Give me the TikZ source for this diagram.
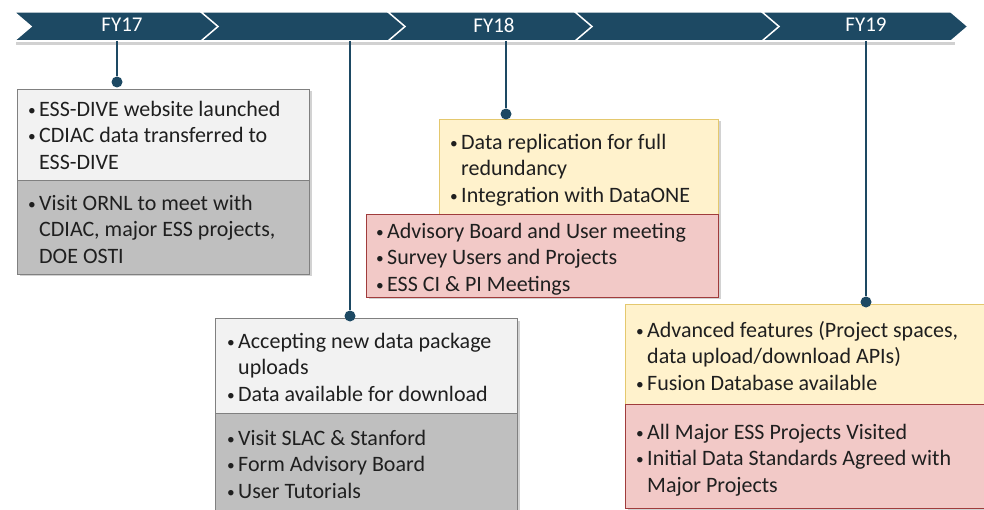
\documentclass[tikz,border=0pt]{standalone}
\usepackage{fontspec}
\setmainfont{Carlito}
\usetikzlibrary{shadows}
\definecolor{teal}{RGB}{29,73,99}
\definecolor{lgray}{RGB}{242,242,242}
\definecolor{dgray}{RGB}{191,191,191}
\definecolor{gborder}{RGB}{128,128,128}
\definecolor{yfill}{RGB}{255,242,204}
\definecolor{yborder}{RGB}{228,200,110}
\definecolor{rfill}{RGB}{242,201,199}
\definecolor{rborder}{RGB}{160,60,60}
\newcommand{\bl}{\makebox[11pt][l]{\raisebox{1pt}{\scalebox{0.7}{•}}}}
\newcommand{\ind}{\hspace*{11pt}}
\tikzset{
  chev/.style={fill=teal, draw=white, line width=1.5pt, line join=miter},
  fylabel/.style={text=white, font=\fontsize{21}{24}\selectfont},
  conn/.style={draw=teal, line width=2.4pt},
  dotc/.style={circle, fill=teal, inner sep=0pt, minimum size=11pt},
  boxsec/.style={rectangle, anchor=north west, inner sep=0pt, line width=1pt,
     drop shadow={opacity=0.35, shadow xshift=2pt, shadow yshift=-2pt}},
  grayA/.style={boxsec, fill=lgray, draw=gborder},
  grayB/.style={boxsec, fill=dgray, draw=gborder},
  yelA/.style={boxsec, fill=yfill, draw=yborder},
  redB/.style={boxsec, fill=rfill, draw=rborder},
  txt/.style={anchor=north west, align=left, inner sep=0pt, text=black!88,
     font=\fontsize{22}{26.5}\selectfont},
}
\begin{document}
\begin{tikzpicture}[x=1pt, y=-1pt]
\useasboundingbox (0,0) rectangle (984,510);
\fill[white] (0,0) rectangle (984,510);
% shadow under bar
\fill[black!18] (16,42) rectangle (955,45);
% chevrons
\foreach \i in {0,...,4}{
  \pgfmathsetmacro{\L}{14+187*\i}
  \draw[chev] (\L,12) -- ++(189,0) -- ++(17,14.5) -- ++(-17,14.5) -- ++(-189,0) -- ++(17,-14.5) -- cycle;
}
\node[fylabel] (fy17) at (122,25) {FY17};
\node[fylabel] (fy18) at (494,25) {FY18};
\node[fylabel] (fy19) at (866,25) {FY19};
\coordinate (t1) at (117,41);
\coordinate (t2) at (350,41);
\coordinate (t3) at (506,41);
\coordinate (t4) at (866,41);

% Box 1
\node[grayA, minimum width=292pt, minimum height=91pt] (b1a) at (17,89) {};
\node[grayB, minimum width=292pt, minimum height=94pt] (b1b) at (17,180) {};
\node[txt] (b1at) at (28,101) {\bl ESS-DIVE website launched\\ \bl CDIAC data transferred to\\ \ind ESS-DIVE};
\node[txt] (b1bt) at (28,195) {\bl Visit ORNL to meet with\\ \ind CDIAC, major ESS projects,\\ \ind DOE OSTI};

% Box 2
\node[yelA, minimum width=279pt, minimum height=95pt] (b2a) at (439,119) {};
\node[redB, minimum width=352pt, minimum height=83pt] (b2b) at (366,214) {};
\node[txt] (b2at) at (450,134) {\bl Data replication for full\\ \ind redundancy\\ \bl Integration with DataONE};
\node[txt] (b2bt) at (376,223) {\bl Advisory Board and User meeting\\ \bl Survey Users and Projects\\ \bl ESS CI \& PI Meetings};

% Box 3
\node[grayA, minimum width=302pt, minimum height=95pt] (b3a) at (215,318) {};
\node[grayB, minimum width=302pt, minimum height=110pt] (b3b) at (215,413) {};
\node[txt] (b3at) at (227,333) {\bl Accepting new data package\\ \ind uploads\\ \bl Data available for download};
\node[txt] (b3bt) at (227,430) {\bl Visit SLAC \& Stanford\\ \bl Form Advisory Board\\ \bl User Tutorials};

% Box 4
\node[yelA, minimum width=370pt, minimum height=100pt] (b4a) at (625,304) {};
\node[redB, minimum width=370pt, minimum height=104pt] (b4b) at (625,404) {};
\node[txt] (b4at) at (636,321) {\bl Advanced features (Project spaces,\\ \ind data upload/download APIs)\\ \bl Fusion Database available};
\node[txt] (b4bt) at (636,424) {\bl All Major ESS Projects Visited\\ \bl Initial Data Standards Agreed with\\ \ind Major Projects};

% connectors
\node[dotc] (d1) at (117,82) {};
\node[dotc] (d2) at (350,316) {};
\node[dotc] (d3) at (506,114) {};
\node[dotc] (d4) at (866,302) {};
\draw[conn] (t1) -- (d1);
\draw[conn] (t2) -- (d2);
\draw[conn] (t3) -- (d3);
\draw[conn] (t4) -- (d4);
\end{tikzpicture}
\end{document}
